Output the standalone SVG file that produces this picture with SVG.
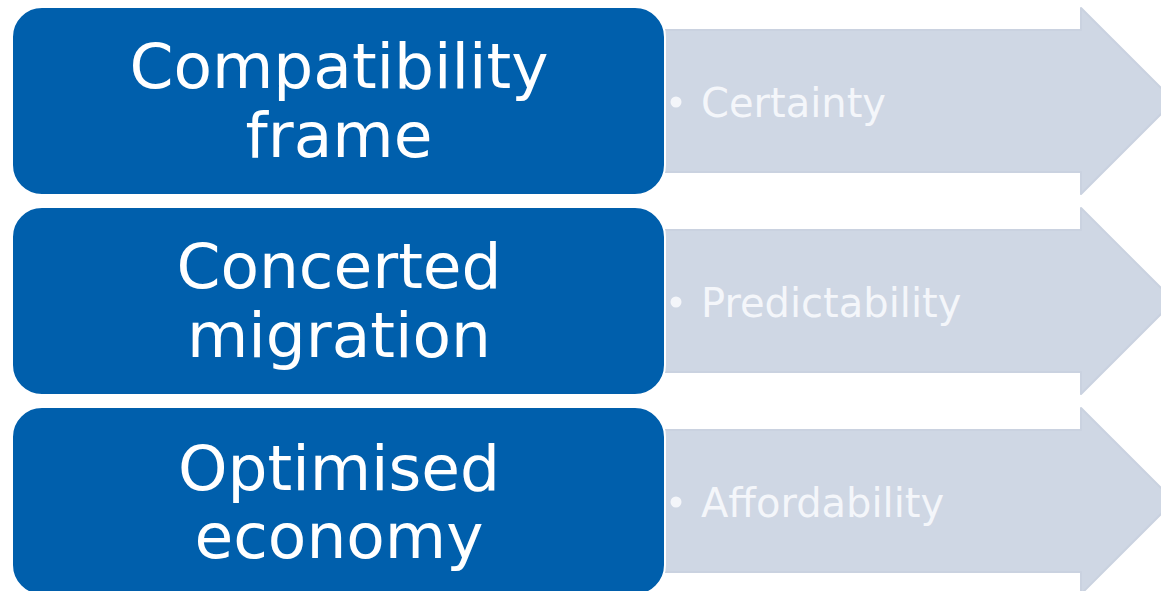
<svg xmlns="http://www.w3.org/2000/svg" width="1161" height="591" viewBox="0 0 1161 591">
<style>
.arrow{fill:#cfd7e4;stroke:#cad2e0;stroke-width:2;stroke-linejoin:round}
.box{fill:#005fac;stroke:#ffffff;stroke-width:2}
.big{font-family:"DejaVu Sans",Verdana,sans-serif;font-size:63px;fill:#ffffff;text-anchor:middle}
.small{font-family:"DejaVu Sans",Verdana,sans-serif;font-size:40px;fill:#f4f6fa}
.dot{fill:#f4f6fa}
</style>
<rect width="1161" height="591" fill="#ffffff"/>
<g id="arrows">
<path class="arrow" d="M640,30 H1081 V8 L1174,101 L1081,194 V172 H640 Z"/>
<path class="arrow" d="M640,230 H1081 V208 L1174,301 L1081,394 V372 H640 Z"/>
<path class="arrow" d="M640,430 H1081 V408 L1174,501 L1081,594 V572 H640 Z"/>
</g>
<g id="node1">
<rect class="box" x="12" y="7" width="653" height="188" rx="30"/>
<text class="big" x="339" y="88">Compatibility</text>
<text class="big" x="339" y="157">frame</text>
</g>
<g id="node2">
<rect class="box" x="12" y="207" width="653" height="188" rx="30"/>
<text class="big" x="339" y="288">Concerted</text>
<text class="big" x="339" y="357">migration</text>
</g>
<g id="node3">
<rect class="box" x="12" y="407" width="653" height="188" rx="30"/>
<text class="big" x="339" y="490">Optimised</text>
<text class="big" x="339" y="558">economy</text>
</g>
<g id="label1">
<circle class="dot" cx="676" cy="102" r="5.5"/>
<text class="small" x="701" y="117">Certainty</text>
</g>
<g id="label2">
<circle class="dot" cx="676" cy="302" r="5.5"/>
<text class="small" x="701" y="317">Predictability</text>
</g>
<g id="label3">
<circle class="dot" cx="676" cy="502" r="5.5"/>
<text class="small" x="701" y="517">Affordability</text>
</g>
</svg>
